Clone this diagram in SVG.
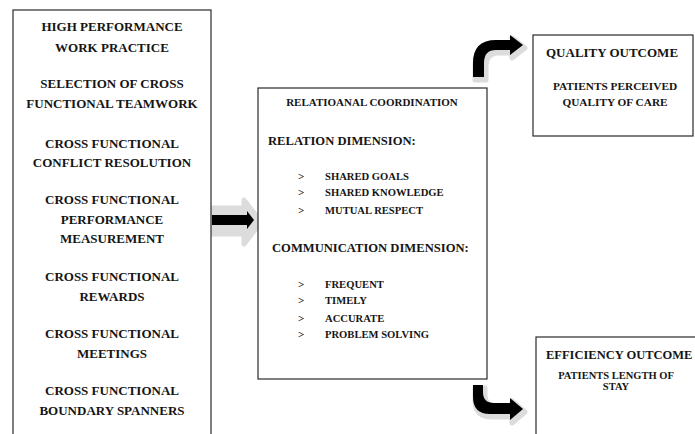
<svg xmlns="http://www.w3.org/2000/svg" width="695" height="434" viewBox="0 0 695 434">
<style>
.box{fill:#fff;stroke:#2a2a2a;stroke-width:1.2}
text{font-family:"Liberation Serif","Times New Roman",serif;font-weight:bold;fill:#151515}
.l{font-size:13px;text-anchor:middle}
.t{font-size:11px;text-anchor:middle}
.h{font-size:12.6px}
.b{font-size:10.6px}
.bul{font-size:11px}
.oh{font-size:13px}
.oh2{font-size:12.5px}
.os{font-size:11.3px;text-anchor:middle}
.os2{font-size:10.5px;text-anchor:middle}
.shadow{fill:#dcdcdc;stroke:#dcdcdc;stroke-width:5;stroke-linejoin:round}
.arrow{fill:#000}
</style>
<rect width="695" height="434" fill="#fff"/>
<g id="connectors">
  <g id="arrow-left-to-rc">
    <path class="shadow" d="M209,208 L244,208 L244,200 L261,222 L244,244 L244,234 L209,234 Z"/>
    <path class="arrow" d="M212,215 L247,215 L247,211 L254,220 L247,229 L247,225 L212,225 Z"/>
  </g>
  <g id="arrow-rc-to-quality">
    <path class="shadow" transform="translate(2,3)" d="M473,77 L473,63 Q473,40 496,40 L510,40 L510,35 L523,45 L510,55 L510,50 L496,50 Q484,50 484,63 L484,77 Z"/>
    <path class="arrow" d="M473,77 L473,63 Q473,40 496,40 L510,40 L510,35 L523,45 L510,55 L510,50 L496,50 Q484,50 484,63 L484,77 Z"/>
  </g>
  <g id="arrow-rc-to-efficiency">
    <path class="shadow" transform="translate(2,3)" d="M473,385 L473,397 Q473,414 490,414 L510,414 L510,420 L523,409 L510,398 L510,403 L494,403 Q483,403 483,392 L483,385 Z"/>
    <path class="arrow" d="M473,385 L473,397 Q473,414 490,414 L510,414 L510,420 L523,409 L510,398 L510,403 L494,403 Q483,403 483,392 L483,385 Z"/>
  </g>
</g>
<g id="node-hpwp">
  <rect class="box" x="13" y="10" width="198" height="440"/>
  <text class="l" x="112" y="31">HIGH PERFORMANCE</text>
  <text class="l" x="112" y="52">WORK PRACTICE</text>
  <text class="l" x="112" y="88">SELECTION OF CROSS</text>
  <text class="l" x="112" y="108">FUNCTIONAL TEAMWORK</text>
  <text class="l" x="112" y="148">CROSS FUNCTIONAL</text>
  <text class="l" x="112" y="167">CONFLICT RESOLUTION</text>
  <text class="l" x="112" y="204">CROSS FUNCTIONAL</text>
  <text class="l" x="112" y="224">PERFORMANCE</text>
  <text class="l" x="112" y="243">MEASUREMENT</text>
  <text class="l" x="112" y="281">CROSS FUNCTIONAL</text>
  <text class="l" x="112" y="301">REWARDS</text>
  <text class="l" x="112" y="338">CROSS FUNCTIONAL</text>
  <text class="l" x="112" y="358">MEETINGS</text>
  <text class="l" x="112" y="395">CROSS FUNCTIONAL</text>
  <text class="l" x="112" y="415">BOUNDARY SPANNERS</text>
</g>
<g id="node-rc">
  <rect class="box" x="258" y="88" width="229" height="291"/>
  <text class="t" x="372" y="106">RELATIOANAL COORDINATION</text>
  <text class="h" x="268" y="145">RELATION DIMENSION:</text>
  <text class="bul" x="298" y="180">&gt;</text>
  <text class="b" x="325" y="180">SHARED GOALS</text>
  <text class="bul" x="298" y="196">&gt;</text>
  <text class="b" x="325" y="196">SHARED KNOWLEDGE</text>
  <text class="bul" x="298" y="214">&gt;</text>
  <text class="b" x="325" y="214">MUTUAL RESPECT</text>
  <text class="h" x="272" y="252">COMMUNICATION DIMENSION:</text>
  <text class="bul" x="298" y="288">&gt;</text>
  <text class="b" x="325" y="288">FREQUENT</text>
  <text class="bul" x="298" y="304">&gt;</text>
  <text class="b" x="325" y="304">TIMELY</text>
  <text class="bul" x="298" y="322">&gt;</text>
  <text class="b" x="325" y="322">ACCURATE</text>
  <text class="bul" x="298" y="338">&gt;</text>
  <text class="b" x="325" y="338">PROBLEM SOLVING</text>
</g>
<g id="node-quality">
  <rect class="box" x="533" y="35" width="160" height="101"/>
  <text class="oh" x="546" y="57">QUALITY OUTCOME</text>
  <text class="os" x="615" y="90">PATIENTS PERCEIVED</text>
  <text class="os" x="615" y="106">QUALITY OF CARE</text>
</g>
<g id="node-efficiency">
  <rect class="box" x="536" y="337" width="170" height="110"/>
  <text class="oh2" x="546" y="359">EFFICIENCY OUTCOME</text>
  <text class="os2" x="616" y="379">PATIENTS LENGTH OF</text>
  <text class="os2" x="616" y="390">STAY</text>
</g>
</svg>
